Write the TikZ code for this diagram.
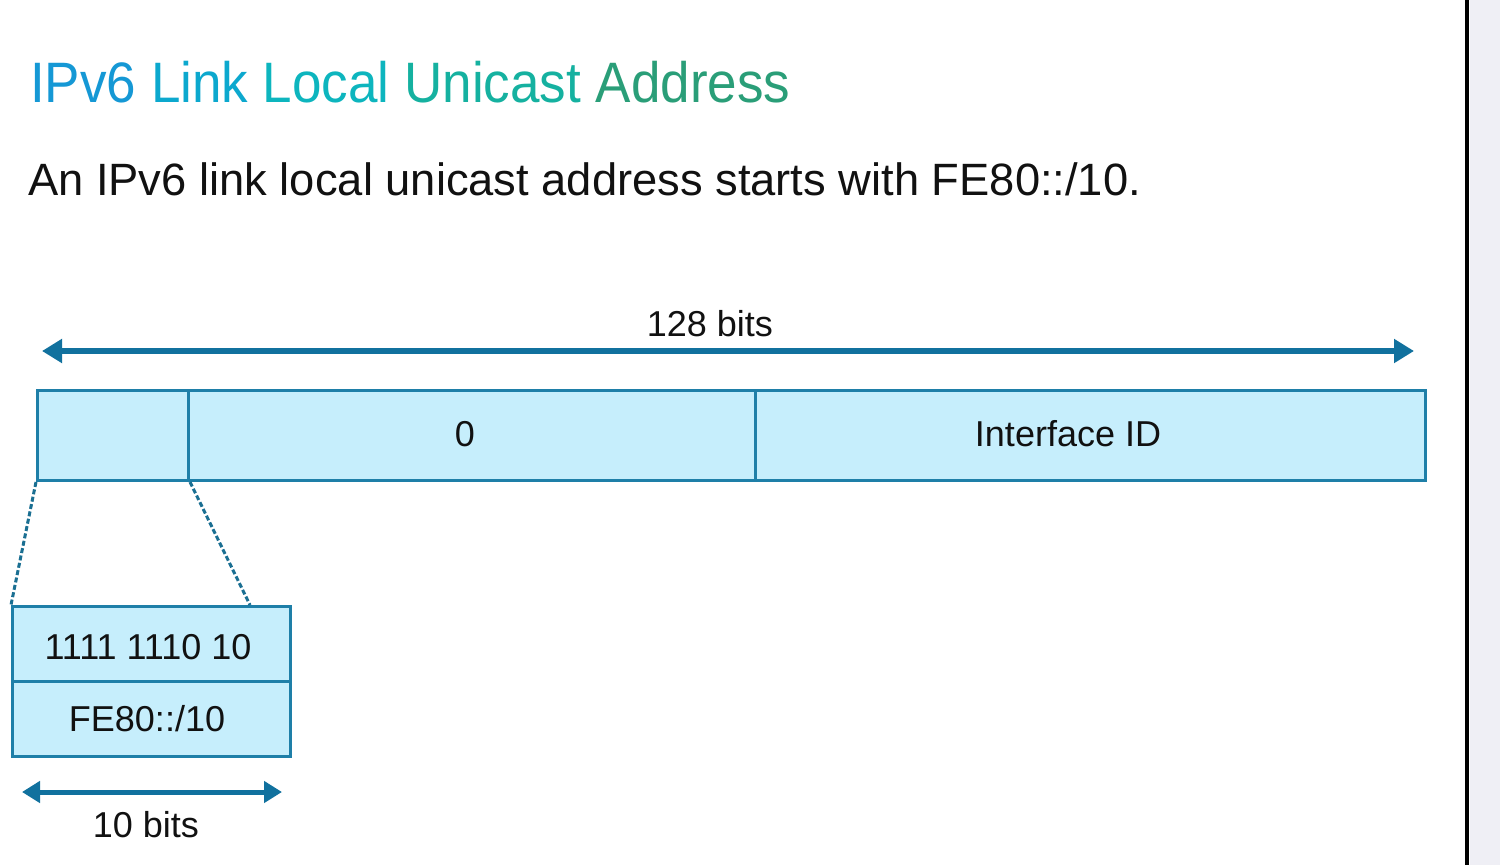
\documentclass[tikz,border=0pt]{standalone}
\usepackage{fontspec}
\setmainfont{Liberation Sans}
\usetikzlibrary{arrows.meta}
\definecolor{cellfill}{HTML}{C6EEFC}
\definecolor{celldraw}{HTML}{1E7FA8}
\definecolor{arrowc}{HTML}{11719E}
\definecolor{dashc}{HTML}{1A6F92}
\definecolor{sidegray}{HTML}{EFEFF5}
\definecolor{tA}{HTML}{1598D5}
\definecolor{tB}{HTML}{0CA8CE}
\definecolor{tC}{HTML}{0DB5BE}
\definecolor{tD}{HTML}{15B1A0}
\definecolor{tE}{HTML}{2A9E78}
\definecolor{txt}{HTML}{111111}
\tikzset{
  cell/.style={draw=celldraw, fill=cellfill, line width=3pt, inner sep=0pt, anchor=north west, text=txt, font=\fontsize{36}{40}\selectfont},
  lbl/.style={inner sep=0pt, text=txt, font=\fontsize{36}{40}\selectfont},
  span/.style={draw=arrowc, line width=5.5pt, {Triangle[length=20pt,width=23pt]}-{Triangle[length=20pt,width=23pt]}},
  spansmall/.style={draw=arrowc, line width=5pt, {Triangle[length=18pt,width=21pt]}-{Triangle[length=18pt,width=21pt]}},
  zoomline/.style={draw=dashc, line width=3pt, dash pattern=on 5pt off 2.5pt}
}
\begin{document}
\begin{tikzpicture}[x=1pt,y=-1pt]
\useasboundingbox (0,0) rectangle (1500,865);
\fill[white] (0,0) rectangle (1470,865);
\fill[sidegray] (1470,0) rectangle (1500,865);
\draw[black, line width=4pt] (1467,0) -- (1467,865);

\node[anchor=base west, inner sep=0pt] (title) at (30,102)
  {\fontsize{57}{60}\selectfont\scalebox{0.93}[1]{{\color{tA}IPv6} {\color{tB}Link} {\color{tC}Local} {\color{tD}Unicast} {\color{tE}Address}}};
\node[anchor=base west, inner sep=0pt, text=txt] (sub) at (28,195)
  {\fontsize{45.3}{50}\selectfont An IPv6 link local unicast address starts with FE80::/10.};

\node[lbl, anchor=base] (l128) at (710,336) {128 bits};
\coordinate (a1) at (42,351);
\coordinate (a2) at (1414,351);
\draw[span] (a1) -- (a2);

\node[cell, minimum width=151pt, minimum height=90pt] (c1) at (36,389) {};
\node[cell, minimum width=567pt, minimum height=90pt] (c2) at (187,389) {};
\node[cell, minimum width=670pt, minimum height=90pt] (c3) at (754,389) {};
\node[lbl] (zero) at (465,434) {0};
\node[lbl] (iid) at (1068,434) {Interface ID};

\node[cell, minimum width=278pt, minimum height=75pt] (bin) at (11,605) {};
\node[cell, minimum width=278pt, minimum height=75pt] (hex) at (11,680) {};
\node[lbl] (bintext) at (148,647) {1111 1110 10};
\node[lbl] (hextext) at (147,719) {FE80::/10};

\coordinate (dr) at (250,605);
\draw[zoomline] (c1.south west) -- (bin.north west);
\draw[zoomline] (c1.south east) -- (dr);

\coordinate (b1) at (22,792);
\coordinate (b2) at (282,792);
\draw[spansmall] (b1) -- (b2);
\node[lbl, anchor=base] (l10) at (146,837) {10 bits};
\end{tikzpicture}
\end{document}
